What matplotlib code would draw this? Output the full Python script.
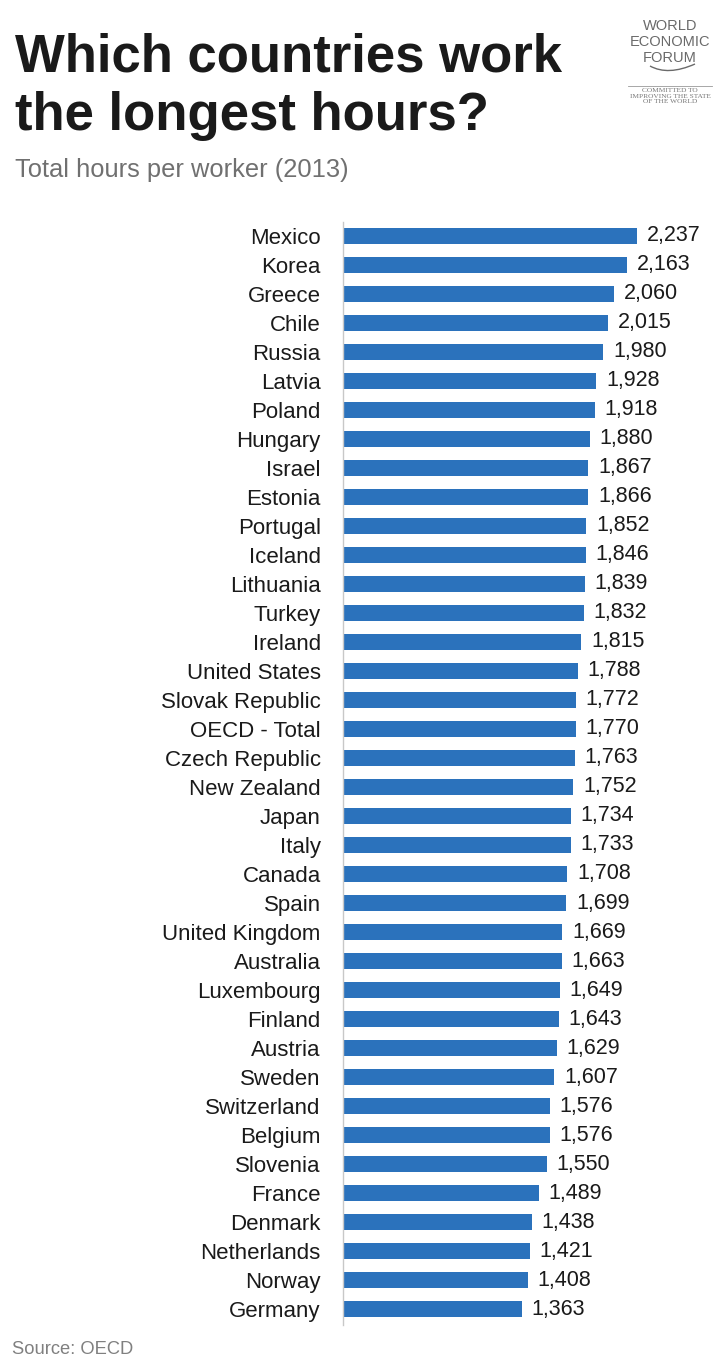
import matplotlib
matplotlib.use("Agg")
from matplotlib import pyplot as plt
from matplotlib.path import Path
from matplotlib.patches import PathPatch

plt.rcParams['font.family'] = ['Liberation Sans', 'DejaVu Sans']

countries = ['Mexico', 'Korea', 'Greece', 'Chile', 'Russia', 'Latvia', 'Poland',
             'Hungary', 'Israel', 'Estonia', 'Portugal', 'Iceland', 'Lithuania',
             'Turkey', 'Ireland', 'United States', 'Slovak Republic', 'OECD - Total',
             'Czech Republic', 'New Zealand', 'Japan', 'Italy', 'Canada', 'Spain',
             'United Kingdom', 'Australia', 'Luxembourg', 'Finland', 'Austria',
             'Sweden', 'Switzerland', 'Belgium', 'Slovenia', 'France', 'Denmark',
             'Netherlands', 'Norway', 'Germany']
hours = [2237, 2163, 2060, 2015, 1980, 1928, 1918, 1880, 1867, 1866, 1852, 1846,
         1839, 1832, 1815, 1788, 1772, 1770, 1763, 1752, 1734, 1733, 1708, 1699,
         1669, 1663, 1649, 1643, 1629, 1607, 1576, 1576, 1550, 1489, 1438, 1421,
         1408, 1363]

title_lines = ['Which countries work', 'the longest hours?']
subtitle = 'Total hours per worker (2013)'
source = 'Source: OECD'

W, H = 720, 1361
fig = plt.figure(figsize=(W / 100, H / 100), dpi=100)
fig.patch.set_facecolor('white')

# bar panel
ax = fig.add_axes([343 / W, 1 - 1325 / H, (W - 343) / W, (1325 - 222) / H])
pos = list(range(len(countries)))
ax.barh(pos, hours, height=0.53, color='#2B72BC')
ax.set_xlim(0, 2869)
ax.set_ylim(37.55, -0.48)
ax.set_yticks(pos)
ax.set_yticklabels(countries, fontsize=16, color='#1a1a1a')
ax.tick_params(axis='y', length=0, pad=16)
ax.set_xticks([])
for s in ['top', 'right', 'bottom']:
    ax.spines[s].set_visible(False)
ax.spines['left'].set_color('#c8c8c8')
ax.spines['left'].set_linewidth(1.0)
for p, v in zip(pos, hours):
    ax.annotate(f'{v:,}', (v, p), xytext=(7, 0), textcoords='offset points',
                ha='left', va='center', fontsize=15.5, color='#1a1a1a')

# headings
fig.text(15 / W, 1 - 72 / H, title_lines[0], fontsize=38, fontweight='bold',
         color='#1a1a1a', ha='left', va='baseline')
fig.text(15 / W, 1 - 130 / H, title_lines[1], fontsize=38, fontweight='bold',
         color='#1a1a1a', ha='left', va='baseline')
fig.text(15 / W, 1 - 177 / H, subtitle, fontsize=18.4, color='#707070',
         ha='left', va='baseline')
fig.text(12 / W, 1 - 1354 / H, source, fontsize=13.2, color='#808080',
         ha='left', va='baseline')

# logo
logo_x = 670 / W
for txt, yb in [('WORLD', 30), ('ECONOMIC', 46), ('FORUM', 62)]:
    fig.text(logo_x, 1 - yb / H, txt, fontsize=10.5, color='#6a6a6a',
             ha='center', va='baseline')
arc = Path([(650 / W, 1 - 66 / H), (668 / W, 1 - 76 / H), (695 / W, 1 - 64 / H)],
           [Path.MOVETO, Path.CURVE3, Path.CURVE3])
fig.add_artist(PathPatch(arc, fc='none', ec='#6a6a6a', lw=1.0,
                         transform=fig.transFigure))
fig.add_artist(plt.Line2D([628 / W, 712 / W], [1 - 86 / H, 1 - 86 / H],
                          color='#999999', lw=0.6, transform=fig.transFigure))
for txt, yb in [('COMMITTED TO', 92), ('IMPROVING THE STATE', 97.5), ('OF THE WORLD', 103)]:
    fig.text(logo_x, 1 - yb / H, txt, fontsize=5.3, color='#777777',
             family='Liberation Serif', ha='center', va='baseline')

fig.savefig('out.png', dpi=100, facecolor='white')
